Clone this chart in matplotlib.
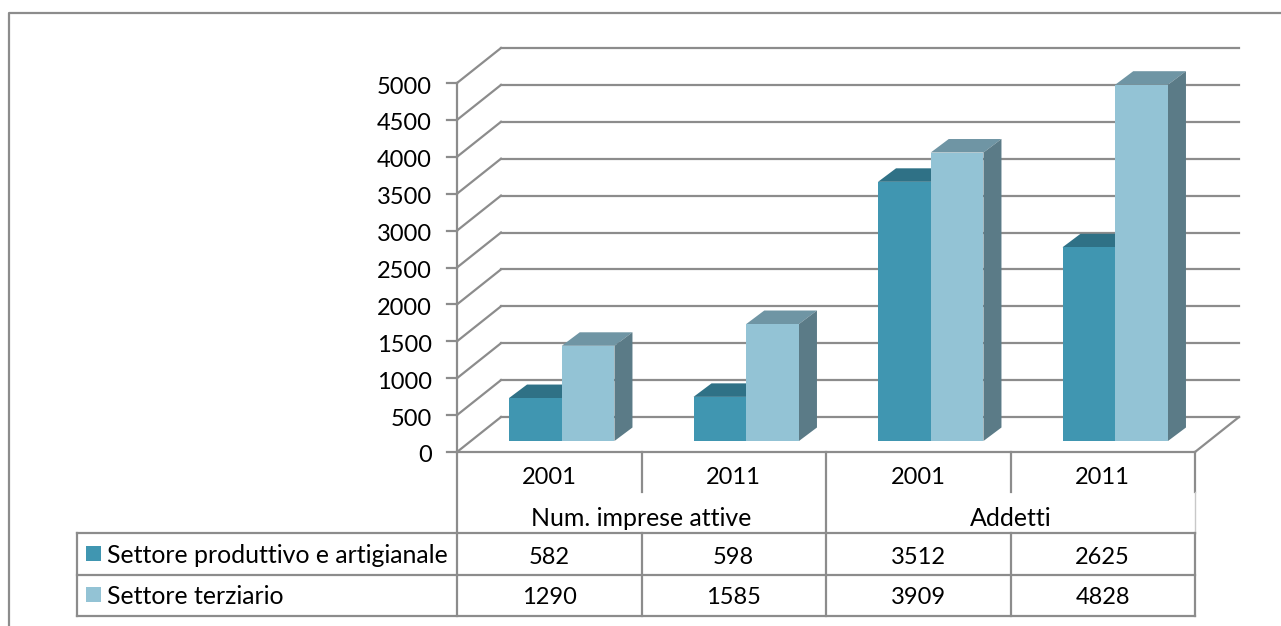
import matplotlib
matplotlib.use('Agg')
import matplotlib.pyplot as plt
from matplotlib.patches import Rectangle
from matplotlib.transforms import Affine2D

groups = ['Num. imprese attive', 'Addetti']
years = ['2001', '2011', '2001', '2011']
series_names = ['Settore produttivo e artigianale', 'Settore terziario']
produttivo = [582, 598, 3512, 2625]
terziario = [1290, 1585, 3909, 4828]
y_ticks = list(range(0, 5001, 500))

W, H = 1281, 626
GRID = '#8c8c8c'
C1 = '#4096b1'
C2 = '#93c3d5'
C1_TOP, C1_SIDE = '#2f7186', '#2f7186'
C2_TOP, C2_SIDE = '#6f95a4', '#5b7b87'
FONT = 'Lato'
FS = 17
FS_WORDS = 17.9
LW = 1.6

fig = plt.figure(figsize=(W / 100, H / 100), dpi=100, facecolor='white')

# overlay in pixel coordinates for the frame and the data table
px = fig.add_axes([0, 0, 1, 1])
px.set_xlim(0, W)
px.set_ylim(H, 0)
px.axis('off')

# plot axes = front plane of the 3d box
x0, x1, y0, y1 = 457, 1195, 452, 83
ax = fig.add_axes([x0 / W, 1 - y0 / H, (x1 - x0) / W, (y0 - y1) / H])
ax.set_xlim(0, 4)
ax.set_ylim(0, 5000)
ax.patch.set_visible(False)
for s in ax.spines.values():
    s.set_visible(False)
ax.set_xticks([])
ax.set_yticks(y_ticks)
ax.tick_params(axis='y', length=0, pad=18, labelsize=FS)
for t in ax.get_yticklabels():
    t.set_family(FONT)
    t.set_transform(t.get_transform() + Affine2D().translate(0, -2))


def shifted(dx, dy):
    return ax.transData + Affine2D().translate(dx, dy)


# depth of the box and of the bars, in pixels
BOX = (44, 35)
BAR_FRONT = (12.5, 11)
BAR_D = (18, 13.5)

back = shifted(*BOX)
for v in y_ticks:
    ax.plot([0, 4], [v, v], color=GRID, lw=LW, transform=back, clip_on=False, zorder=1)
    # diagonal on the left wall, from front to back
    p0 = ax.transData.transform((0, v))
    ax.plot([p0[0], p0[0] + BOX[0]], [p0[1], p0[1] + BOX[1]], color=GRID, lw=LW,
            transform=None, clip_on=False, zorder=1)
    ax.plot([p0[0] - 10, p0[0]], [p0[1], p0[1]], color=GRID, lw=LW,
            transform=None, clip_on=False, zorder=1)
ax.plot([0, 0], [0, 5000], color=GRID, lw=LW, clip_on=False, zorder=1)
p0 = ax.transData.transform((4, 0))
ax.plot([p0[0], p0[0] + BOX[0]], [p0[1], p0[1] + BOX[1]], color=GRID, lw=LW,
        transform=None, clip_on=False, zorder=1)

# bars: 150% gap width
bw = 1 / 3.5
front = shifted(*BAR_FRONT)
to_depth = shifted(BAR_FRONT[0] + BAR_D[0], BAR_FRONT[1] + BAR_D[1])


def bar3d(left, h, col, top, side, z):
    ax.bar(left, h, bw, align='edge', color=col, transform=front, clip_on=False, zorder=z)
    a = [front.transform((left, h)), front.transform((left + bw, h)),
         to_depth.transform((left + bw, h)), to_depth.transform((left, h))]
    ax.fill([p[0] for p in a], [p[1] for p in a], color=top, lw=0, transform=None, clip_on=False, zorder=z - 0.1)
    b = [front.transform((left + bw, 0)), front.transform((left + bw, h)),
         to_depth.transform((left + bw, h)), to_depth.transform((left + bw, 0))]
    ax.fill([p[0] for p in b], [p[1] for p in b], color=side, lw=0, transform=None, clip_on=False, zorder=z - 0.1)


for i in range(4):
    left = i + 0.75 * bw
    bar3d(left, produttivo[i], C1, C1_TOP, C1_SIDE, 3)
    bar3d(left + bw, terziario[i], C2, C2_TOP, C2_SIDE, 4)

# frame of the whole chart
px.plot([9, 9, W], [H, 12.7, 12.7], color=GRID, lw=LW)

# data table
rows = [452, 533, 574.5, 616]
cols = [ax.transData.transform((i, 0))[0] for i in range(5)]
line = dict(color=GRID, lw=LW, zorder=2)
px.plot([cols[0], cols[4]], [rows[0], rows[0]], **line)
for r in rows[1:]:
    px.plot([77, cols[4]], [r, r], **line)
px.plot([77, 77], [rows[1], rows[3]], **line)
for c in (cols[0], cols[2]):
    px.plot([c, c], [rows[0], rows[3]], **line)
# right edge is faint next to the group labels
px.plot([cols[4], cols[4]], [rows[0], 492], **line)
px.plot([cols[4], cols[4]], [492, rows[1]], color='#c8c8c8', lw=1, zorder=2)
px.plot([cols[4], cols[4]], [rows[1], rows[3]], **line)
for c in (cols[1], cols[3]):
    px.plot([c, c], [rows[0], 492], **line)
    px.plot([c, c], [rows[1], rows[3]], **line)

txt = dict(family=FONT, fontsize=FS, ha='center', va='center', color='black')
for i in range(4):
    mid = (cols[i] + cols[i + 1]) / 2
    px.text(mid, 478, years[i], **txt)
    px.text(mid, 557, str(produttivo[i]), **txt)
    px.text(mid, 597, str(terziario[i]), **txt)
word = dict(txt, fontsize=FS_WORDS)
px.text((cols[0] + cols[2]) / 2, 519, groups[0], **word)
px.text((cols[2] + cols[4]) / 2, 519, groups[1], **word)

for ry, name, col in zip((553.5, 594.5), series_names, (C1, C2)):
    px.add_patch(Rectangle((86, ry - 7.5), 15, 15, facecolor=col, edgecolor='none'))
    px.text(107, ry + 2, name, family=FONT, fontsize=FS_WORDS, ha='left', va='center', color='black')

fig.savefig('out.png', dpi=100)
